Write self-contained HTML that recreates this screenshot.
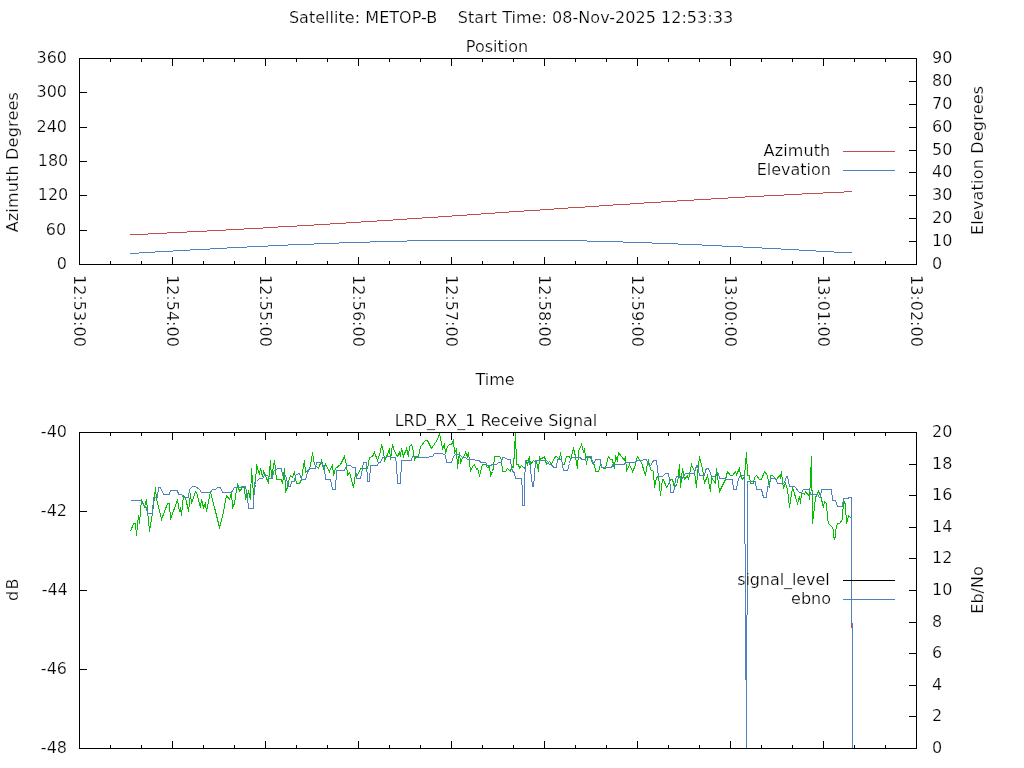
<!DOCTYPE html>
<html lang="en">
<head>
<meta charset="utf-8">
<title>Satellite: METOP-B</title>
<style>
html,body{margin:0;padding:0;background:#fff;overflow:hidden}
svg{display:block}
text{font-family:"DejaVu Sans","Liberation Sans",sans-serif;font-size:16px;fill:#000;stroke:#fff;stroke-width:0.24px;paint-order:fill stroke;}
rect{shape-rendering:crispEdges}
</style>
</head>
<body>
<svg width="1024" height="768" viewBox="0 0 1024 768">
<rect x="0" y="0" width="1024" height="768" fill="#fff"/>
<path d="M130 234.5H148M148 233.5H167M167 232.5H187M187 231.5H207M207 230.5H226M226 229.5H244M244 228.5H263M263 227.5H278M278 226.5H297M297 225.5H314M314 224.5H330M330 223.5H346M346 222.5H361M361 221.5H377M377 220.5H393M393 219.5H407M407 218.5H422M422 217.5H438M438 216.5H452M452 215.5H467M467 214.5H481M481 213.5H495M495 212.5H509M509 211.5H524M524 210.5H540M540 209.5H554M554 208.5H568M568 207.5H585M585 206.5H599M599 205.5H613M613 204.5H630M630 203.5H644M644 202.5H661M661 201.5H677M677 200.5H694M694 199.5H711M711 198.5H728M728 197.5H745M745 196.5H764M764 195.5H784M784 194.5H802M802 193.5H823M823 192.5H844M844 191.5H852" fill="none" stroke="#c0504d" stroke-width="1" shape-rendering="crispEdges"/>
<path d="M130 253.5H139M139 252.5H155M155 251.5H173M173 250.5H190M190 249.5H210M210 248.5H227M227 247.5H247M247 246.5H268M268 245.5H288M288 244.5H314M314 243.5H339M339 242.5H370M370 241.5H407M407 240.5H587M587 241.5H623M623 242.5H652M652 243.5H678M678 244.5H702M702 245.5H722M722 246.5H743M743 247.5H762M762 248.5H781M781 249.5H799M799 250.5H816M816 251.5H834M834 252.5H852" fill="none" stroke="#4f81bd" stroke-width="1" shape-rendering="crispEdges"/>
<clipPath id="c2"><rect x="79" y="432" width="838" height="317"/></clipPath>
<g clip-path="url(#c2)">
<polyline points="130.5,531.5 133.5,523.5 135.5,523.5 136.5,535.5 138.5,515.5 139.5,523.5 141.5,499.5 144.5,506.5 146.5,499.5 149.5,531.5 152.5,513.5 153.5,505.5 155.5,487.5 156.5,499.5 158.5,506.5 161.5,519.5 167.5,503.5 169.5,503.5 170.5,519.5 177.5,499.5 179.5,511.5 180.5,507.5 181.5,515.5 183.5,495.5 185.5,497.5 188.5,511.5 190.5,493.5 191.5,503.5 195.5,491.5 196.5,492.5 200.5,507.5 201.5,499.5 203.5,507.5 205.5,503.5 206.5,511.5 210.5,491.5 219.5,527.5 222.5,516.5 226.5,495.5 229.5,499.5 231.5,492.5 232.5,507.5 234.5,503.5 237.5,483.5 239.5,491.5 242.5,487.5 244.5,487.5 245.5,499.5 248.5,491.5 250.5,499.5 251.5,468.5 253.5,494.5 255.5,484.5 256.5,464.5 259.5,474.5 260.5,468.5 262.5,476.5 263.5,471.5 265.5,475.5 268.5,483.5 270.5,460.5 271.5,478.5 274.5,460.5 276.5,479.5 281.5,479.5 282.5,483.5 284.5,468.5 285.5,491.5 287.5,487.5 288.5,481.5 290.5,475.5 292.5,477.5 294.5,471.5 296.5,483.5 299.5,483.5 301.5,479.5 302.5,472.5 304.5,460.5 305.5,472.5 309.5,468.5 310.5,465.5 312.5,452.5 314.5,464.5 315.5,465.5 318.5,468.5 321.5,460.5 323.5,468.5 325.5,464.5 329.5,471.5 332.5,464.5 333.5,475.5 335.5,468.5 340.5,464.5 344.5,456.5 346.5,464.5 347.5,475.5 349.5,472.5 353.5,487.5 355.5,473.5 357.5,475.5 360.5,468.5 363.5,468.5 367.5,468.5 369.5,457.5 372.5,456.5 374.5,452.5 377.5,460.5 380.5,451.5 381.5,444.5 383.5,451.5 384.5,460.5 387.5,454.5 389.5,448.5 390.5,459.5 392.5,444.5 394.5,451.5 397.5,456.5 399.5,452.5 400.5,456.5 401.5,448.5 403.5,456.5 406.5,448.5 408.5,456.5 409.5,446.5 411.5,444.5 413.5,451.5 414.5,460.5 415.5,456.5 418.5,456.5 420.5,446.5 425.5,440.5 427.5,440.5 431.5,448.5 437.5,439.5 439.5,433.5 440.5,438.5 442.5,448.5 444.5,444.5 445.5,453.5 447.5,446.5 449.5,444.5 451.5,444.5 453.5,440.5 454.5,453.5 456.5,448.5 457.5,468.5 459.5,452.5 460.5,463.5 462.5,457.5 464.5,456.5 465.5,452.5 467.5,456.5 468.5,452.5 470.5,471.5 472.5,466.5 474.5,464.5 476.5,469.5 477.5,468.5 479.5,475.5 482.5,464.5 485.5,464.5 487.5,467.5 489.5,466.5 490.5,475.5 492.5,471.5 493.5,467.5 494.5,456.5 499.5,456.5 501.5,459.5 502.5,471.5 505.5,471.5 507.5,468.5 510.5,471.5 511.5,466.5 513.5,467.5 515.5,432.5 516.5,464.5 518.5,464.5 519.5,468.5 521.5,465.5 524.5,468.5 526.5,462.5 527.5,464.5 529.5,456.5 530.5,464.5 533.5,460.5 535.5,462.5 536.5,461.5 538.5,471.5 539.5,456.5 540.5,459.5 544.5,456.5 546.5,464.5 549.5,461.5 551.5,464.5 554.5,457.5 556.5,456.5 559.5,459.5 560.5,452.5 562.5,464.5 564.5,464.5 566.5,456.5 569.5,456.5 570.5,459.5 573.5,448.5 575.5,456.5 577.5,468.5 578.5,451.5 581.5,444.5 583.5,451.5 584.5,448.5 586.5,464.5 587.5,457.5 590.5,457.5 592.5,463.5 594.5,464.5 595.5,471.5 598.5,471.5 600.5,464.5 601.5,467.5 605.5,468.5 608.5,456.5 610.5,459.5 612.5,459.5 612.5,460.5 614.5,468.5 615.5,456.5 617.5,460.5 618.5,452.5 624.5,460.5 625.5,456.5 626.5,471.5 629.5,464.5 632.5,471.5 634.5,467.5 637.5,456.5 639.5,459.5 641.5,462.5 645.5,475.5 647.5,463.5 648.5,460.5 650.5,469.5 653.5,471.5 654.5,487.5 656.5,477.5 658.5,476.5 660.5,495.5 662.5,479.5 663.5,479.5 666.5,487.5 669.5,482.5 670.5,479.5 672.5,479.5 674.5,487.5 677.5,483.5 679.5,464.5 680.5,487.5 682.5,468.5 683.5,473.5 684.5,479.5 687.5,475.5 688.5,479.5 691.5,464.5 694.5,471.5 696.5,487.5 697.5,473.5 699.5,456.5 702.5,468.5 704.5,483.5 707.5,475.5 710.5,491.5 711.5,477.5 715.5,483.5 716.5,468.5 719.5,491.5 725.5,479.5 727.5,471.5 730.5,475.5 732.5,475.5 735.5,471.5 736.5,474.5 739.5,468.5 740.5,475.5 742.5,479.5 744.5,476.5 746.5,452.5 747.5,475.5 749.5,475.5 750.5,483.5 753.5,483.5 754.5,477.5 756.5,475.5 759.5,479.5 761.5,479.5 764.5,471.5 767.5,475.5 769.5,487.5 770.5,475.5 772.5,475.5 776.5,479.5 779.5,475.5 780.5,477.5 781.5,471.5 782.5,481.5 783.5,487.5 785.5,483.5 787.5,489.5 789.5,507.5 792.5,487.5 797.5,503.5 799.5,496.5 800.5,503.5 801.5,492.5 804.5,494.5 805.5,491.5 809.5,496.5 809.5,499.5 811.5,456.5 812.5,523.5 814.5,507.5 815.5,497.5 818.5,491.5 820.5,495.5 822.5,503.5 823.5,507.5 824.5,501.5 826.5,503.5 826.5,510.5 827.5,511.5 827.5,518.5 828.5,523.5 832.5,527.5 833.5,530.5 833.5,535.5 834.5,539.5 835.5,535.5 835.5,531.5 836.5,526.5 837.5,523.5 839.5,523.5 842.5,519.5 842.5,509.5 843.5,508.5 843.5,501.5 844.5,501.5 845.5,505.5 845.5,514.5 846.5,515.5 846.5,523.5 847.5,520.5 848.5,515.5 851.5,518.5" fill="none" stroke="#00c000" stroke-width="1" stroke-linejoin="miter" shape-rendering="crispEdges"/>
<polyline points="130.5,500.5 140.5,500.5 144.5,506.5 146.5,507.5 147.5,513.5 152.5,513.5 153.5,497.5 157.5,497.5 158.5,487.5 160.5,487.5 163.5,494.5 169.5,494.5 170.5,490.5 177.5,490.5 178.5,494.5 181.5,494.5 183.5,497.5 188.5,497.5 189.5,489.5 192.5,486.5 195.5,486.5 199.5,489.5 201.5,492.5 210.5,492.5 212.5,489.5 215.5,489.5 217.5,487.5 220.5,487.5 222.5,492.5 231.5,492.5 234.5,487.5 240.5,487.5 242.5,486.5 245.5,486.5 247.5,497.5 248.5,508.5 252.5,508.5 253.5,508.5 254.5,482.5 256.5,481.5 259.5,478.5 262.5,478.5 264.5,475.5 267.5,475.5 269.5,478.5 272.5,478.5 273.5,471.5 274.5,470.5 277.5,468.5 281.5,468.5 282.5,475.5 285.5,475.5 287.5,482.5 288.5,486.5 290.5,486.5 291.5,481.5 294.5,481.5 295.5,475.5 298.5,473.5 299.5,473.5 301.5,479.5 305.5,479.5 307.5,472.5 309.5,468.5 315.5,468.5 316.5,462.5 321.5,462.5 324.5,468.5 325.5,479.5 330.5,479.5 331.5,484.5 332.5,489.5 335.5,489.5 336.5,470.5 344.5,470.5 346.5,465.5 350.5,465.5 352.5,467.5 355.5,467.5 356.5,478.5 360.5,478.5 362.5,468.5 363.5,462.5 366.5,462.5 367.5,481.5 369.5,481.5 370.5,465.5 372.5,465.5 377.5,465.5 378.5,462.5 380.5,462.5 382.5,457.5 384.5,457.5 387.5,456.5 390.5,456.5 391.5,457.5 395.5,457.5 396.5,464.5 397.5,483.5 400.5,483.5 401.5,460.5 411.5,460.5 412.5,456.5 415.5,457.5 428.5,457.5 429.5,456.5 432.5,456.5 434.5,453.5 442.5,453.5 445.5,455.5 446.5,462.5 451.5,462.5 453.5,456.5 455.5,454.5 459.5,454.5 462.5,457.5 465.5,457.5 467.5,459.5 474.5,459.5 475.5,460.5 479.5,460.5 480.5,462.5 485.5,462.5 487.5,465.5 490.5,465.5 492.5,464.5 496.5,464.5 498.5,462.5 501.5,462.5 502.5,457.5 504.5,457.5 507.5,459.5 510.5,459.5 511.5,467.5 512.5,471.5 514.5,472.5 515.5,478.5 521.5,478.5 522.5,491.5 522.5,505.5 524.5,505.5 524.5,483.5 525.5,460.5 529.5,460.5 530.5,469.5 532.5,486.5 533.5,486.5 534.5,476.5 535.5,460.5 546.5,460.5 547.5,461.5 549.5,464.5 552.5,465.5 553.5,467.5 556.5,467.5 557.5,459.5 561.5,459.5 562.5,464.5 563.5,470.5 567.5,470.5 569.5,463.5 570.5,459.5 572.5,457.5 580.5,457.5 581.5,459.5 585.5,459.5 586.5,456.5 591.5,456.5 592.5,462.5 594.5,462.5 595.5,459.5 600.5,459.5 601.5,467.5 610.5,467.5 612.5,466.5 612.5,464.5 624.5,464.5 625.5,462.5 635.5,462.5 636.5,460.5 642.5,460.5 643.5,459.5 646.5,459.5 647.5,462.5 649.5,465.5 650.5,465.5 652.5,462.5 653.5,460.5 656.5,460.5 657.5,468.5 658.5,476.5 662.5,476.5 665.5,473.5 668.5,473.5 669.5,479.5 670.5,487.5 670.5,492.5 673.5,492.5 674.5,487.5 675.5,479.5 676.5,476.5 679.5,476.5 680.5,478.5 682.5,478.5 685.5,473.5 694.5,473.5 695.5,469.5 696.5,465.5 697.5,465.5 698.5,470.5 699.5,475.5 704.5,475.5 705.5,470.5 706.5,468.5 708.5,468.5 710.5,473.5 711.5,476.5 714.5,476.5 716.5,473.5 718.5,473.5 719.5,478.5 724.5,478.5 725.5,479.5 732.5,479.5 733.5,489.5 736.5,489.5 737.5,482.5 739.5,476.5 742.5,475.5 744.5,475.5 744.5,476.5" fill="none" stroke="#4f81bd" stroke-width="1" stroke-linejoin="miter" shape-rendering="crispEdges"/>
<polyline points="747.5,481.5 755.5,481.5 756.5,489.5 761.5,489.5 763.5,497.5 766.5,497.5 767.5,486.5 769.5,486.5 770.5,478.5 775.5,478.5 777.5,483.5 783.5,483.5 785.5,480.5 786.5,476.5 787.5,476.5 789.5,486.5 794.5,486.5 799.5,492.5 801.5,492.5 803.5,489.5 809.5,489.5 810.5,494.5 817.5,494.5 819.5,497.5 820.5,497.5 821.5,489.5 831.5,489.5 832.5,500.5 835.5,500.5 837.5,506.5 842.5,506.5 843.5,498.5 847.5,498.5 849.5,497.5 851.5,497.5" fill="none" stroke="#4f81bd" stroke-width="1" stroke-linejoin="miter" shape-rendering="crispEdges"/>
</g>
<rect x="744" y="476" width="1" height="68" fill="#4f81bd"/>
<rect x="745" y="544" width="1" height="136" fill="#4f81bd"/>
<rect x="746" y="680" width="1" height="69" fill="#4f81bd"/>
<rect x="747" y="481" width="1" height="134" fill="#4f81bd"/>
<rect x="746" y="615" width="1" height="134" fill="#4f81bd"/>
<rect x="851" y="497" width="1" height="126" fill="#4f81bd"/>
<rect x="852" y="623" width="1" height="126" fill="#4f81bd"/>
<rect x="851" y="623" width="1" height="5" fill="#c0504d"/>
<rect x="79" y="58" width="838" height="1" fill="#000"/>
<rect x="79" y="264" width="838" height="1" fill="#000"/>
<rect x="79" y="58" width="1" height="207" fill="#000"/>
<rect x="916" y="58" width="1" height="207" fill="#000"/>
<rect x="110" y="58" width="1" height="4" fill="#000"/>
<rect x="110" y="261" width="1" height="4" fill="#000"/>
<rect x="141" y="58" width="1" height="4" fill="#000"/>
<rect x="141" y="261" width="1" height="4" fill="#000"/>
<rect x="172" y="58" width="1" height="8" fill="#000"/>
<rect x="172" y="257" width="1" height="8" fill="#000"/>
<rect x="203" y="58" width="1" height="4" fill="#000"/>
<rect x="203" y="261" width="1" height="4" fill="#000"/>
<rect x="234" y="58" width="1" height="4" fill="#000"/>
<rect x="234" y="261" width="1" height="4" fill="#000"/>
<rect x="265" y="58" width="1" height="8" fill="#000"/>
<rect x="265" y="257" width="1" height="8" fill="#000"/>
<rect x="296" y="58" width="1" height="4" fill="#000"/>
<rect x="296" y="261" width="1" height="4" fill="#000"/>
<rect x="327" y="58" width="1" height="4" fill="#000"/>
<rect x="327" y="261" width="1" height="4" fill="#000"/>
<rect x="358" y="58" width="1" height="8" fill="#000"/>
<rect x="358" y="257" width="1" height="8" fill="#000"/>
<rect x="389" y="58" width="1" height="4" fill="#000"/>
<rect x="389" y="261" width="1" height="4" fill="#000"/>
<rect x="420" y="58" width="1" height="4" fill="#000"/>
<rect x="420" y="261" width="1" height="4" fill="#000"/>
<rect x="451" y="58" width="1" height="8" fill="#000"/>
<rect x="451" y="257" width="1" height="8" fill="#000"/>
<rect x="482" y="58" width="1" height="4" fill="#000"/>
<rect x="482" y="261" width="1" height="4" fill="#000"/>
<rect x="513" y="58" width="1" height="4" fill="#000"/>
<rect x="513" y="261" width="1" height="4" fill="#000"/>
<rect x="544" y="58" width="1" height="8" fill="#000"/>
<rect x="544" y="257" width="1" height="8" fill="#000"/>
<rect x="575" y="58" width="1" height="4" fill="#000"/>
<rect x="575" y="261" width="1" height="4" fill="#000"/>
<rect x="606" y="58" width="1" height="4" fill="#000"/>
<rect x="606" y="261" width="1" height="4" fill="#000"/>
<rect x="637" y="58" width="1" height="8" fill="#000"/>
<rect x="637" y="257" width="1" height="8" fill="#000"/>
<rect x="668" y="58" width="1" height="4" fill="#000"/>
<rect x="668" y="261" width="1" height="4" fill="#000"/>
<rect x="699" y="58" width="1" height="4" fill="#000"/>
<rect x="699" y="261" width="1" height="4" fill="#000"/>
<rect x="730" y="58" width="1" height="8" fill="#000"/>
<rect x="730" y="257" width="1" height="8" fill="#000"/>
<rect x="761" y="58" width="1" height="4" fill="#000"/>
<rect x="761" y="261" width="1" height="4" fill="#000"/>
<rect x="792" y="58" width="1" height="4" fill="#000"/>
<rect x="792" y="261" width="1" height="4" fill="#000"/>
<rect x="823" y="58" width="1" height="8" fill="#000"/>
<rect x="823" y="257" width="1" height="8" fill="#000"/>
<rect x="854" y="58" width="1" height="4" fill="#000"/>
<rect x="854" y="261" width="1" height="4" fill="#000"/>
<rect x="885" y="58" width="1" height="4" fill="#000"/>
<rect x="885" y="261" width="1" height="4" fill="#000"/>
<rect x="79" y="264" width="8" height="1" fill="#000"/>
<rect x="79" y="230" width="8" height="1" fill="#000"/>
<rect x="79" y="195" width="8" height="1" fill="#000"/>
<rect x="79" y="161" width="8" height="1" fill="#000"/>
<rect x="79" y="127" width="8" height="1" fill="#000"/>
<rect x="79" y="92" width="8" height="1" fill="#000"/>
<rect x="79" y="58" width="8" height="1" fill="#000"/>
<rect x="909" y="264" width="8" height="1" fill="#000"/>
<rect x="909" y="241" width="8" height="1" fill="#000"/>
<rect x="909" y="218" width="8" height="1" fill="#000"/>
<rect x="909" y="195" width="8" height="1" fill="#000"/>
<rect x="909" y="172" width="8" height="1" fill="#000"/>
<rect x="909" y="150" width="8" height="1" fill="#000"/>
<rect x="909" y="127" width="8" height="1" fill="#000"/>
<rect x="909" y="104" width="8" height="1" fill="#000"/>
<rect x="909" y="81" width="8" height="1" fill="#000"/>
<rect x="909" y="58" width="8" height="1" fill="#000"/>
<rect x="843" y="151" width="52" height="1" fill="#c0504d"/>
<rect x="843" y="170" width="52" height="1" fill="#4f81bd"/>
<rect x="79" y="432" width="838" height="1" fill="#000"/>
<rect x="79" y="748" width="838" height="1" fill="#000"/>
<rect x="79" y="432" width="1" height="317" fill="#000"/>
<rect x="916" y="432" width="1" height="317" fill="#000"/>
<rect x="110" y="432" width="1" height="4" fill="#000"/>
<rect x="110" y="745" width="1" height="4" fill="#000"/>
<rect x="141" y="432" width="1" height="4" fill="#000"/>
<rect x="141" y="745" width="1" height="4" fill="#000"/>
<rect x="172" y="432" width="1" height="8" fill="#000"/>
<rect x="172" y="741" width="1" height="8" fill="#000"/>
<rect x="203" y="432" width="1" height="4" fill="#000"/>
<rect x="203" y="745" width="1" height="4" fill="#000"/>
<rect x="234" y="432" width="1" height="4" fill="#000"/>
<rect x="234" y="745" width="1" height="4" fill="#000"/>
<rect x="265" y="432" width="1" height="8" fill="#000"/>
<rect x="265" y="741" width="1" height="8" fill="#000"/>
<rect x="296" y="432" width="1" height="4" fill="#000"/>
<rect x="296" y="745" width="1" height="4" fill="#000"/>
<rect x="327" y="432" width="1" height="4" fill="#000"/>
<rect x="327" y="745" width="1" height="4" fill="#000"/>
<rect x="358" y="432" width="1" height="8" fill="#000"/>
<rect x="358" y="741" width="1" height="8" fill="#000"/>
<rect x="389" y="432" width="1" height="4" fill="#000"/>
<rect x="389" y="745" width="1" height="4" fill="#000"/>
<rect x="420" y="432" width="1" height="4" fill="#000"/>
<rect x="420" y="745" width="1" height="4" fill="#000"/>
<rect x="451" y="432" width="1" height="8" fill="#000"/>
<rect x="451" y="741" width="1" height="8" fill="#000"/>
<rect x="482" y="432" width="1" height="4" fill="#000"/>
<rect x="482" y="745" width="1" height="4" fill="#000"/>
<rect x="513" y="432" width="1" height="4" fill="#000"/>
<rect x="513" y="745" width="1" height="4" fill="#000"/>
<rect x="544" y="432" width="1" height="8" fill="#000"/>
<rect x="544" y="741" width="1" height="8" fill="#000"/>
<rect x="575" y="432" width="1" height="4" fill="#000"/>
<rect x="575" y="745" width="1" height="4" fill="#000"/>
<rect x="606" y="432" width="1" height="4" fill="#000"/>
<rect x="606" y="745" width="1" height="4" fill="#000"/>
<rect x="637" y="432" width="1" height="8" fill="#000"/>
<rect x="637" y="741" width="1" height="8" fill="#000"/>
<rect x="668" y="432" width="1" height="4" fill="#000"/>
<rect x="668" y="745" width="1" height="4" fill="#000"/>
<rect x="699" y="432" width="1" height="4" fill="#000"/>
<rect x="699" y="745" width="1" height="4" fill="#000"/>
<rect x="730" y="432" width="1" height="8" fill="#000"/>
<rect x="730" y="741" width="1" height="8" fill="#000"/>
<rect x="761" y="432" width="1" height="4" fill="#000"/>
<rect x="761" y="745" width="1" height="4" fill="#000"/>
<rect x="792" y="432" width="1" height="4" fill="#000"/>
<rect x="792" y="745" width="1" height="4" fill="#000"/>
<rect x="823" y="432" width="1" height="8" fill="#000"/>
<rect x="823" y="741" width="1" height="8" fill="#000"/>
<rect x="854" y="432" width="1" height="4" fill="#000"/>
<rect x="854" y="745" width="1" height="4" fill="#000"/>
<rect x="885" y="432" width="1" height="4" fill="#000"/>
<rect x="885" y="745" width="1" height="4" fill="#000"/>
<rect x="79" y="432" width="8" height="1" fill="#000"/>
<rect x="79" y="511" width="8" height="1" fill="#000"/>
<rect x="79" y="590" width="8" height="1" fill="#000"/>
<rect x="79" y="669" width="8" height="1" fill="#000"/>
<rect x="79" y="748" width="8" height="1" fill="#000"/>
<rect x="909" y="748" width="8" height="1" fill="#000"/>
<rect x="909" y="716" width="8" height="1" fill="#000"/>
<rect x="909" y="685" width="8" height="1" fill="#000"/>
<rect x="909" y="653" width="8" height="1" fill="#000"/>
<rect x="909" y="622" width="8" height="1" fill="#000"/>
<rect x="909" y="590" width="8" height="1" fill="#000"/>
<rect x="909" y="558" width="8" height="1" fill="#000"/>
<rect x="909" y="527" width="8" height="1" fill="#000"/>
<rect x="909" y="495" width="8" height="1" fill="#000"/>
<rect x="909" y="464" width="8" height="1" fill="#000"/>
<rect x="909" y="432" width="8" height="1" fill="#000"/>
<rect x="843" y="580" width="52" height="1" fill="#000"/>
<rect x="843" y="599" width="52" height="1" fill="#4f81bd"/>
<text x="288.9" y="23" text-anchor="start" style="letter-spacing:0.037px">Satellite: METOP-B    Start Time: 08-Nov-2025 12:53:33</text>
<text x="497" y="52" text-anchor="middle">Position</text>
<text x="67" y="269" text-anchor="end">0</text>
<text x="66.2" y="235" text-anchor="end">60</text>
<text x="68.3" y="200" text-anchor="end">120</text>
<text x="68.3" y="166" text-anchor="end">180</text>
<text x="67" y="132" text-anchor="end">240</text>
<text x="67" y="97" text-anchor="end">300</text>
<text x="67" y="63" text-anchor="end">360</text>
<text x="932" y="269" text-anchor="start">0</text>
<text x="932" y="246" text-anchor="start">10</text>
<text x="932" y="223" text-anchor="start">20</text>
<text x="932" y="200" text-anchor="start">30</text>
<text x="932" y="177" text-anchor="start">40</text>
<text x="932" y="155" text-anchor="start">50</text>
<text x="932" y="132" text-anchor="start">60</text>
<text x="932" y="109" text-anchor="start">70</text>
<text x="932" y="86" text-anchor="start">80</text>
<text x="932" y="63" text-anchor="start">90</text>
<text x="74" y="275" text-anchor="start" transform="rotate(90 74 275)">12:53:00</text>
<text x="167" y="275" text-anchor="start" transform="rotate(90 167 275)">12:54:00</text>
<text x="260" y="275" text-anchor="start" transform="rotate(90 260 275)">12:55:00</text>
<text x="353" y="275" text-anchor="start" transform="rotate(90 353 275)">12:56:00</text>
<text x="446" y="275" text-anchor="start" transform="rotate(90 446 275)">12:57:00</text>
<text x="539" y="275" text-anchor="start" transform="rotate(90 539 275)">12:58:00</text>
<text x="632" y="275" text-anchor="start" transform="rotate(90 632 275)">12:59:00</text>
<text x="725" y="275" text-anchor="start" transform="rotate(90 725 275)">13:00:00</text>
<text x="818" y="275" text-anchor="start" transform="rotate(90 818 275)">13:01:00</text>
<text x="911" y="275" text-anchor="start" transform="rotate(90 911 275)">13:02:00</text>
<text x="495" y="385" text-anchor="middle">Time</text>
<text x="18.1" y="162.2" text-anchor="middle" transform="rotate(-90 18.1 162.2)" style="letter-spacing:0.18px">Azimuth Degrees</text>
<text x="982.8" y="160.4" text-anchor="middle" transform="rotate(-90 982.8 160.4)" style="letter-spacing:0.2px">Elevation Degrees</text>
<text x="830.4" y="156" text-anchor="end" style="letter-spacing:0.12px">Azimuth</text>
<text x="831" y="175" text-anchor="end">Elevation</text>
<text x="496" y="426" text-anchor="middle">LRD_RX_1 Receive Signal</text>
<text x="67" y="437" text-anchor="end">-40</text>
<text x="67" y="516" text-anchor="end">-42</text>
<text x="67.8" y="595" text-anchor="end">-44</text>
<text x="67" y="674" text-anchor="end">-46</text>
<text x="67" y="753" text-anchor="end">-48</text>
<text x="932" y="753" text-anchor="start">0</text>
<text x="932" y="721" text-anchor="start">2</text>
<text x="932" y="690" text-anchor="start">4</text>
<text x="932" y="658" text-anchor="start">6</text>
<text x="932" y="627" text-anchor="start">8</text>
<text x="932" y="595" text-anchor="start">10</text>
<text x="932" y="563" text-anchor="start">12</text>
<text x="932" y="532" text-anchor="start">14</text>
<text x="932" y="500" text-anchor="start">16</text>
<text x="932" y="469" text-anchor="start">18</text>
<text x="932" y="437" text-anchor="start">20</text>
<text x="17.6" y="589" text-anchor="middle" transform="rotate(-90 17.6 589)" style="letter-spacing:1.5px">dB</text>
<text x="982.8" y="590" text-anchor="middle" transform="rotate(-90 982.8 590)">Eb/No</text>
<text x="829.5" y="585" text-anchor="end" style="letter-spacing:-0.09px">signal_level</text>
<text x="831" y="604" text-anchor="end">ebno</text>
</svg>
</body>
</html>
